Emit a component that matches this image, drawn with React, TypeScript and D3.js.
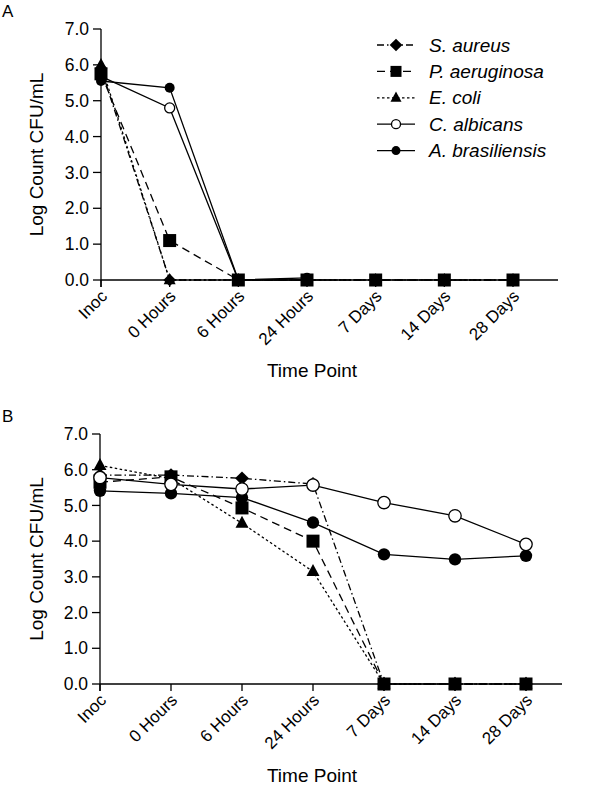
import React from "react";
import * as d3 from "d3";

const categories = ["Inoc", "0 Hours", "6 Hours", "24 Hours", "7 Days", "14 Days", "28 Days"];
const yTicks = [0, 1, 2, 3, 4, 5, 6, 7];

const seriesNames = ["S. aureus", "P. aeruginosa", "E. coli", "C. albicans", "A. brasiliensis"];

// Panel A values (null = not measured)
const aSaureus = [5.9, 0, 0, 0, 0, 0, 0];
const aPaeruginosa = [5.75, 1.1, 0, 0, 0, 0, 0];
const aEcoli = [6.0, 0, 0, 0, 0, 0, 0];
const aCalbicans = [5.68, 4.8, 0, 0, null, null, null];
const aAbrasiliensis = [5.55, 5.36, 0, 0.06, null, null, null];

// Panel B values
const bSaureus = [5.85, 5.85, 5.76, 5.6, 0, 0, 0];
const bPaeruginosa = [5.65, 5.8, 4.93, 4.0, 0, 0, 0];
const bEcoli = [6.12, 5.75, 4.5, 3.15, 0, 0, 0];
const bCalbicans = [5.78, 5.59, 5.46, 5.57, 5.08, 4.71, 3.91];
const bAbrasiliensis = [5.41, 5.34, 5.22, 4.52, 3.63, 3.49, 3.59];

type Style = { dash: string; marker: "diamond" | "square" | "triangle" | "circleOpen" | "circleFilled" };
const styles: Record<string, Style> = {
  "S. aureus": { dash: "7,3,1.5,3", marker: "diamond" },
  "P. aeruginosa": { dash: "8,5", marker: "square" },
  "E. coli": { dash: "2.5,2.5", marker: "triangle" },
  "C. albicans": { dash: "", marker: "circleOpen" },
  "A. brasiliensis": { dash: "", marker: "circleFilled" },
};

const FONT = "'Liberation Sans', Arial, Helvetica, sans-serif";

function Marker({ kind, x, y, r }: { kind: Style["marker"]; x: number; y: number; r: number }) {
  if (kind === "square") {
    const s = r * 2;
    return <rect x={x - s / 2} y={y - s / 2} width={s} height={s} fill="#000" />;
  }
  if (kind === "diamond") {
    const s = r * 1.15;
    return <path d={`M${x},${y - s}L${x + s},${y}L${x},${y + s}L${x - s},${y}Z`} fill="#000" />;
  }
  if (kind === "triangle") {
    const s = r;
    return <path d={`M${x},${y - s * 1.15}L${x + s},${y + s * 0.7}L${x - s},${y + s * 0.7}Z`} fill="#000" />;
  }
  if (kind === "circleOpen") {
    return <circle cx={x} cy={y} r={r} fill="#fff" stroke="#000" strokeWidth={1.3} />;
  }
  return <circle cx={x} cy={y} r={r} fill="#000" />;
}

type PanelProps = {
  label: string;
  x0: number;
  x1: number;
  axisEnd: number;
  yTop: number;
  yBottom: number;
  data: Record<string, (number | null)[]>;
  order: string[];
  markerR: Record<string, number>;
  titleY: number;
  labelY: number;
  legend?: boolean;
};

function Panel(p: PanelProps) {
  const x = d3.scalePoint<string>().domain(categories).range([p.x0, p.x1]);
  const y = d3.scaleLinear().domain([0, 7]).range([p.yBottom, p.yTop]);
  const axisX = p.x0;
  const line = d3
    .line<{ c: string; v: number | null }>()
    .defined((d) => d.v !== null)
    .x((d) => x(d.c)!)
    .y((d) => y(d.v as number));

  return (
    <g>
      <text x={2} y={p.labelY} fontSize={17} fontFamily={FONT}>{p.label}</text>
      {/* y axis */}
      <line x1={axisX} x2={axisX} y1={y(7)} y2={y(0) + 7} stroke="#000" strokeWidth={1.3} />
      {yTicks.map((t) => (
        <g key={t}>
          <line x1={axisX - 8} x2={axisX} y1={y(t)} y2={y(t)} stroke="#000" strokeWidth={1.3} />
          <text x={axisX - 12} y={y(t)} dy="0.35em" textAnchor="end" fontSize={17.5} fontFamily={FONT}>
            {d3.format(".1f")(t)}
          </text>
        </g>
      ))}
      {/* x axis */}
      <line x1={axisX} x2={p.axisEnd} y1={y(0)} y2={y(0)} stroke="#000" strokeWidth={1.3} />
      {categories.map((c) => (
        <g key={c}>
          <line x1={x(c)!} x2={x(c)!} y1={y(0)} y2={y(0) + 7} stroke="#000" strokeWidth={1.3} />
          <text
            transform={`translate(${x(c)! + 3},${y(0) + 13}) rotate(-45)`}
            textAnchor="end"
            dy="0.35em"
            fontSize={17}
            fontFamily={FONT}
          >
            {c}
          </text>
        </g>
      ))}
      <text
        transform={`translate(43,${(y(0) + y(7)) / 2}) rotate(-90)`}
        textAnchor="middle"
        fontSize={19}
        fontFamily={FONT}
      >
        Log Count CFU/mL
      </text>
      <text x={312} y={p.titleY} textAnchor="middle" fontSize={19} fontFamily={FONT}>
        Time Point
      </text>
      {/* lines */}
      {p.order.map((name) => {
        const pts = categories.map((c, i) => ({ c, v: p.data[name][i] }));
        return (
          <path
            key={name}
            d={line(pts) || ""}
            fill="none"
            stroke="#000"
            strokeWidth={1.3}
            strokeDasharray={styles[name].dash || undefined}
          />
        );
      })}
      {/* markers */}
      {p.order.map((name) => (
        <g key={name}>
          {categories.map((c, i) => {
            const v = p.data[name][i];
            if (v === null) return null;
            return <Marker key={c} kind={styles[name].marker} x={x(c)!} y={y(v)} r={p.markerR[name]} />;
          })}
        </g>
      ))}
      {p.legend && (
        <g>
          {seriesNames.map((name, i) => {
            const ly = 45 + i * 26.4;
            const st = styles[name];
            return (
              <g key={name}>
                <line x1={377} x2={415} y1={ly} y2={ly} stroke="#000" strokeWidth={1.3} strokeDasharray={st.dash || undefined} />
                <Marker kind={st.marker} x={396} y={ly} r={st.marker.startsWith("circle") ? 4.5 : 5.5} />
                <text x={429} y={ly} dy="0.35em" fontSize={19} fontStyle="italic" fontFamily={FONT}>
                  {name}
                </text>
              </g>
            );
          })}
        </g>
      )}
    </g>
  );
}

export default function App() {
  const dataA: Record<string, (number | null)[]> = {
    "S. aureus": aSaureus,
    "P. aeruginosa": aPaeruginosa,
    "E. coli": aEcoli,
    "C. albicans": aCalbicans,
    "A. brasiliensis": aAbrasiliensis,
  };
  const dataB: Record<string, (number | null)[]> = {
    "S. aureus": bSaureus,
    "P. aeruginosa": bPaeruginosa,
    "E. coli": bEcoli,
    "C. albicans": bCalbicans,
    "A. brasiliensis": bAbrasiliensis,
  };
  const mA = { "S. aureus": 5.5, "P. aeruginosa": 6.5, "E. coli": 6, "C. albicans": 5, "A. brasiliensis": 5 };
  const mB = { "S. aureus": 6, "P. aeruginosa": 6.5, "E. coli": 6.5, "C. albicans": 6.2, "A. brasiliensis": 6.2 };
  return (
    <svg width={600} height={789} style={{ position: "absolute", left: 0, top: 0, background: "#fff" }}>
      <rect width={600} height={789} fill="#fff" />
      <Panel
        label="A"
        x0={101}
        x1={513}
        axisEnd={558}
        yTop={29}
        yBottom={280}
        data={dataA}
        order={["C. albicans", "A. brasiliensis", "S. aureus", "E. coli", "P. aeruginosa"]}
        markerR={mA}
        titleY={377}
        labelY={17}
        legend
      />
      <Panel
        label="B"
        x0={100}
        x1={526}
        axisEnd={562}
        yTop={434}
        yBottom={684}
        data={dataB}
        order={["S. aureus", "E. coli", "P. aeruginosa", "A. brasiliensis", "C. albicans"]}
        markerR={mB}
        titleY={782}
        labelY={422}
      />
    </svg>
  );
}
